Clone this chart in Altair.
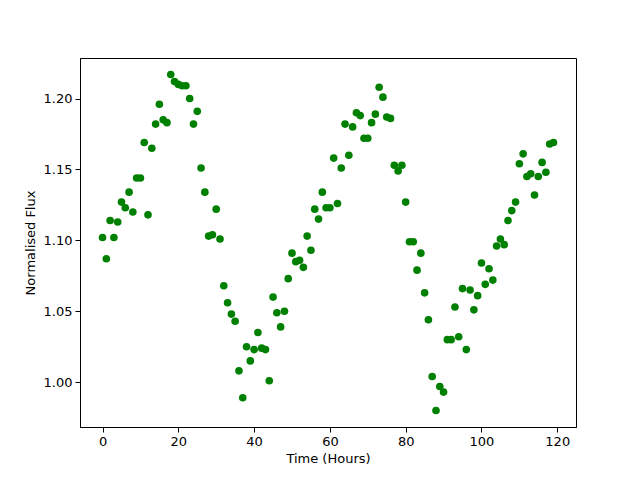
import altair as alt
import pandas as pd

hours = list(range(120))
flux = [
    1.102, 1.087, 1.114, 1.102, 1.113, 1.127, 1.123, 1.134, 1.120, 1.144,
    1.144, 1.169, 1.118, 1.165, 1.182, 1.196, 1.185, 1.183, 1.217, 1.212,
    1.210, 1.209, 1.209, 1.200, 1.182, 1.191, 1.151, 1.134, 1.103, 1.104,
    1.122, 1.101, 1.068, 1.056, 1.048, 1.043, 1.008, 0.989, 1.025, 1.015,
    1.023, 1.035, 1.024, 1.023, 1.001, 1.060, 1.049, 1.039, 1.050, 1.073,
    1.091, 1.085, 1.086, 1.081, 1.103, 1.093, 1.122, 1.115, 1.134, 1.123,
    1.123, 1.158, 1.126, 1.151, 1.182, 1.160, 1.180, 1.190, 1.188, 1.172,
    1.172, 1.183, 1.189, 1.208, 1.201, 1.187, 1.186, 1.153, 1.149, 1.153,
    1.127, 1.099, 1.099, 1.079, 1.091, 1.063, 1.044, 1.004, 0.980, 0.997,
    0.993, 1.030, 1.030, 1.053, 1.032, 1.066, 1.023, 1.065, 1.051, 1.061,
    1.084, 1.069, 1.080, 1.072, 1.096, 1.101, 1.097, 1.114, 1.121, 1.127,
    1.154, 1.161, 1.145, 1.147, 1.132, 1.145, 1.155, 1.148, 1.168, 1.169,
]
x_ticks = [0, 20, 40, 60, 80, 100, 120]
y_ticks = [1.00, 1.05, 1.10, 1.15, 1.20]

df = pd.DataFrame({"hours": hours, "flux": flux})

chart = alt.Chart(df).mark_circle(color="#008000", opacity=1, size=58).encode(
    x=alt.X("hours:Q", title="Time (Hours)",
            scale=alt.Scale(domain=[-5.95, 124.95], nice=False, zero=False),
            axis=alt.Axis(values=x_ticks, format="d")),
    y=alt.Y("flux:Q", title="Normalised Flux",
            scale=alt.Scale(domain=[0.9684, 1.2286], nice=False, zero=False),
            axis=alt.Axis(values=y_ticks, format=".2f")),
).properties(
    width=496, height=369,
    autosize=alt.AutoSizeParams(type="none"),
    padding={"left": 72, "top": 50, "right": 56, "bottom": 45},
).configure_view(
    stroke="black", strokeWidth=1
).configure_axis(
    grid=False, domainColor="black", tickColor="black", tickSize=5,
    labelColor="black", titleColor="black", labelFont="DejaVu Sans",
    titleFont="DejaVu Sans", labelFontSize=13, titleFontSize=13,
    titleFontWeight="normal", labelPadding=3,
).configure_axisX(titlePadding=4).configure_axisY(titlePadding=6)

chart.save("out.html", embed_options={"renderer": "svg", "actions": False})
